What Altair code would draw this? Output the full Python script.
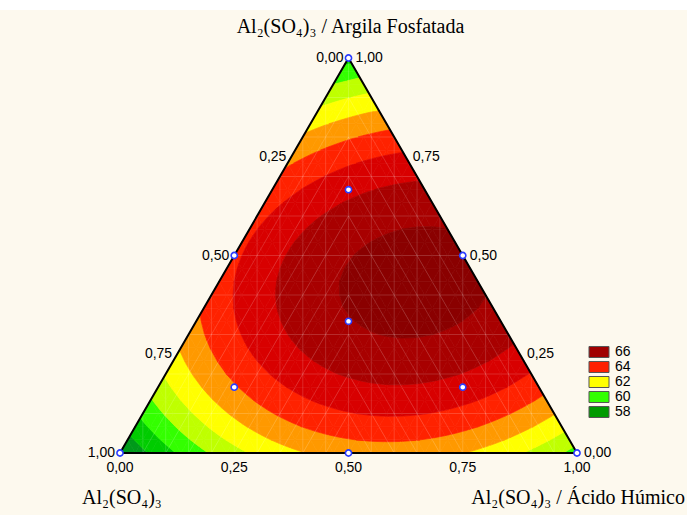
import numpy as np
import pandas as pd
import altair as alt

# Mixture design: fractions of Al2(SO4)3 (a), Al2(SO4)3 / Ácido Húmico (b)
# and Al2(SO4)3 / Argila Fosfatada (c), with the measured response
design_a = [1.0, 0.0, 0.0, 0.5, 0.5, 0.0, 2 / 3, 1 / 6, 1 / 6, 1 / 3]
design_b = [0.0, 1.0, 0.0, 0.5, 0.0, 0.5, 1 / 6, 2 / 3, 1 / 6, 1 / 3]
design_c = [0.0, 0.0, 1.0, 0.0, 0.5, 0.5, 1 / 6, 1 / 6, 2 / 3, 1 / 3]
response = [56.9, 59.6, 58.6, 62.4, 63.8, 66.2, 62.9, 64.6, 64.75, 65.95]

# contour levels and band colours (lowest band first)
levels = [57, 58, 59, 60, 61, 62, 63, 64, 65, 66]
band_colors = ["#00643a", "#009a1a", "#00cc00", "#33ff00", "#bfff00", "#ffff00",
               "#ff9900", "#ff2200", "#d80000", "#a80000", "#8a0000"]

legend_labels = ["66", "64", "62", "60", "58"]
legend_colors = ["#a00000", "#ff2000", "#ffff00", "#33ff00", "#009a00"]

tick_values = [0.0, 0.25, 0.5, 0.75, 1.0]
tick_labels = ["0,00", "0,25", "0,50", "0,75", "1,00"]

title_top = "Al₂(SO₄)₃ / Argila Fosfatada"
title_left = "Al₂(SO₄)₃"
title_right = "Al₂(SO₄)₃ / Ácido Húmico"

BG = "#fdf9ee"
H = np.sqrt(3) / 2


def to_xy(b, c):
    """Ternary fractions -> cartesian position in the equilateral triangle."""
    return b + c / 2.0, c * H


# ---- special cubic Scheffé model fitted to the design -------------------
def terms(a, b, c):
    a, b, c = (np.asarray(v, dtype=float) for v in (a, b, c))
    return np.column_stack([a, b, c, a * b, a * c, b * c, a * b * c])


coef, *_ = np.linalg.lstsq(terms(design_a, design_b, design_c),
                           np.asarray(response), rcond=None)


def model(a, b, c):
    return terms(a, b, c) @ coef


# ---- filled contour bands on a triangular mesh -------------------------
N = 30
nodes = {}
for i in range(N + 1):
    for j in range(N + 1 - i):
        b, c = i / N, j / N
        a = max(0.0, 1.0 - b - c)
        x, y = to_xy(b, c)
        nodes[(i, j)] = (x, y, float(model([a], [b], [c])[0]))

cells = []
for i in range(N):
    for j in range(N - i):
        cells.append([(i, j), (i + 1, j), (i, j + 1)])
        if i + j <= N - 2:
            cells.append([(i + 1, j), (i + 1, j + 1), (i, j + 1)])


def clip(pts, vals, level, above):
    out_p, out_v = [], []
    n = len(pts)
    for k in range(n):
        p, q = pts[k], pts[(k + 1) % n]
        va, vb = vals[k], vals[(k + 1) % n]
        ina = va >= level if above else va <= level
        inb = vb >= level if above else vb <= level
        if ina:
            out_p.append(p)
            out_v.append(va)
        if ina != inb:
            t = (level - va) / (vb - va)
            out_p.append((p[0] + t * (q[0] - p[0]), p[1] + t * (q[1] - p[1])))
            out_v.append(level)
    return out_p, out_v


bounds = [-np.inf] + levels + [np.inf]
band_names = [f"band{k:02d}" for k in range(len(band_colors))]
rows = []
pid = 0
for cell in cells:
    pts = [(nodes[n][0], nodes[n][1]) for n in cell]
    vals = [nodes[n][2] for n in cell]
    for k in range(len(band_colors)):
        lo, hi = bounds[k], bounds[k + 1]
        p, v = pts, vals
        if np.isfinite(lo):
            p, v = clip(p, v, lo, True)
        if len(p) >= 3 and np.isfinite(hi):
            p, v = clip(p, v, hi, False)
        if len(p) < 3:
            continue
        ring = p + [p[0]]
        for order, (x, y) in enumerate(ring):
            rows.append({"pid": pid, "k": order, "x": x, "y": y, "band": band_names[k]})
        pid += 1
poly_df = pd.DataFrame(rows)

# ---- faint mesh lines ---------------------------------------------------
mesh = []
for i in range(1, 20):
    x0 = i / 20
    mesh.append({"x": x0, "y": 0.0, "x2": x0, "y2": min(x0, 1 - x0) * 2 * H})
for j in range(1, 10):
    c = j / 10
    mesh.append({"x": c / 2, "y": c * H, "x2": 1 - c / 2, "y2": c * H})
for i in range(1, 10):
    x0 = i / 20
    mesh.append({"x": x0, "y": 0.0, "x2": 0.5, "y2": (0.5 - x0) * 2 * H})
    x1 = 1 - x0
    mesh.append({"x": x1, "y": 0.0, "x2": 0.5, "y2": (x1 - 0.5) * 2 * H})
mesh_df = pd.DataFrame(mesh)

# ---- triangle outline ---------------------------------------------------
corner_b = [0.0, 1.0, 0.0, 0.0, 1.0]
corner_c = [0.0, 0.0, 1.0, 0.0, 0.0]
ox, oy = to_xy(np.array(corner_b), np.array(corner_c))
outline_df = pd.DataFrame({"x": ox, "y": oy, "k": range(len(ox))})

# ---- design points -------------------------------------------------------
px, py = to_xy(np.array(design_b), np.array(design_c))
points_df = pd.DataFrame({"x": px, "y": py})

# ---- tick labels ---------------------------------------------------------
tv = np.array(tick_values)
bx, by = to_xy(tv, np.zeros_like(tv))                 # bottom: b fraction
rx, ry = to_xy(1 - tv, tv)                            # right: c fraction
lx, ly = to_xy(np.zeros_like(tv), 1 - tv)             # left: a fraction
bottom_df = pd.DataFrame({"x": bx, "y": by, "t": tick_labels})
right_df = pd.DataFrame({"x": rx, "y": ry, "t": tick_labels})
left_df = pd.DataFrame({"x": lx, "y": ly, "t": tick_labels})

legend_df = pd.DataFrame({"lab": legend_labels, "x": 0.5, "y": 0.3})

# ---- scales: triangle base spans 120..577 px, apex at 58 px --------------
W, HT = 687, 515
xmin = -120 / 457
xmax = xmin + W / 457
yr = H * HT / 395
ymin = -62 * yr / HT
ymax = ymin + yr
xs = alt.Scale(domain=[xmin, xmax], nice=False, zero=False)
ys = alt.Scale(domain=[ymin, ymax], nice=False, zero=False)
X = alt.X("x:Q", scale=xs, axis=None)
Y = alt.Y("y:Q", scale=ys, axis=None)

strip = alt.Chart(pd.DataFrame({"v": [0]})).mark_rect(color="white").encode(
    x=alt.value(0), x2=alt.value(W), y=alt.value(0), y2=alt.value(10)
)

legend_layer = alt.Chart(legend_df).mark_square(size=4, opacity=1).encode(
    x=X, y=Y,
    color=alt.Color(
        "lab:N",
        scale=alt.Scale(domain=legend_labels, range=legend_colors),
        legend=alt.Legend(
            title=None, orient="none", legendX=592, legendY=345,
            symbolType="M-1.667,-0.917L1.667,-0.917L1.667,0.917L-1.667,0.917Z",
            symbolSize=144, symbolStrokeColor="#555555", symbolStrokeWidth=1,
            symbolOpacity=1, labelFont="Liberation Sans", labelFontSize=14,
            labelColor="black", labelOffset=9, rowPadding=-3, padding=0,
        ),
    ),
)

band_scale = alt.Scale(domain=band_names, range=band_colors)
contours = alt.Chart(poly_df).mark_line(strokeWidth=0.7, strokeJoin="round").encode(
    x=X, y=Y,
    detail="pid:N",
    order="k:Q",
    fill=alt.Fill("band:N", scale=band_scale, legend=None),
    stroke=alt.Stroke("band:N", scale=band_scale, legend=None),
)

mesh_layer = alt.Chart(mesh_df).mark_rule(color="white", opacity=0.2, strokeWidth=0.8).encode(
    x=X, y=Y, x2="x2:Q", y2="y2:Q"
)

outline = alt.Chart(outline_df).mark_line(color="black", strokeWidth=2).encode(
    x=X, y=Y, order="k:Q"
)

points = alt.Chart(points_df).mark_point(
    filled=True, fill="white", stroke="#2a3cff", strokeWidth=1.6, size=38, opacity=1
).encode(x=X, y=Y)

tick_font = dict(font="Liberation Sans", fontSize=14, color="black")
bottom_text = alt.Chart(bottom_df).mark_text(align="center", baseline="middle", dy=15, **tick_font).encode(
    x=X, y=Y, text="t:N")
right_text = alt.Chart(right_df).mark_text(align="left", baseline="middle", dx=7, **tick_font).encode(
    x=X, y=Y, text="t:N")
left_text = alt.Chart(left_df).mark_text(align="right", baseline="middle", dx=-5, **tick_font).encode(
    x=X, y=Y, text="t:N")

serif = dict(font="Liberation Serif", fontSize=20, color="black", baseline="alphabetic")
top_title = alt.Chart(pd.DataFrame({"x": [0.5], "y": [H], "t": [title_top]})).mark_text(
    align="center", dy=-25, dx=2, **serif).encode(x=X, y=Y, text="t:N")
left_title = alt.Chart(pd.DataFrame({"x": [0.0], "y": [0.0], "t": [title_left]})).mark_text(
    align="left", dx=-38, dy=51, **serif).encode(x=X, y=Y, text="t:N")
right_title = alt.Chart(pd.DataFrame({"x": [1.0], "y": [0.0], "t": [title_right]})).mark_text(
    align="right", dx=108, dy=51, **serif).encode(x=X, y=Y, text="t:N")

chart = alt.layer(
    strip, legend_layer, contours, mesh_layer, outline, points,
    bottom_text, right_text, left_text, top_title, left_title, right_title,
).properties(
    width=W, height=HT, background=BG, padding=0,
    autosize=alt.AutoSizeParams(type="none"),
).configure_view(stroke=None)

chart.save("out.html", embed_options={"renderer": "svg", "actions": False})
